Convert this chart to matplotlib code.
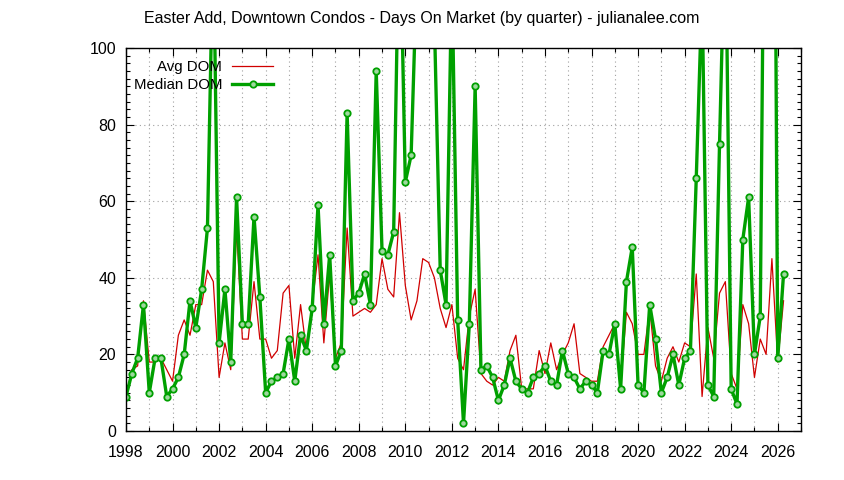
import matplotlib
matplotlib.use("Agg")
import matplotlib.pyplot as plt
from matplotlib.ticker import MultipleLocator
import numpy as np

plt.rcParams['font.family'] = ['Liberation Sans', 'DejaVu Sans']

# quarterly data, first quarter of 1998 .. second quarter of 2026
start_year = 1998
avg_dom = [9, 16, 17, 34,   18, 18, 19, 16,   13, 25, 29, 25,   33, 33, 42, 39,
           14, 23, 16, 53,  24, 24, 39, 24,   24, 19, 21, 36,   38, 19, 33, 21,
           33, 46, 23, 41,  19, 23, 53, 30,   31, 32, 31, 33,   45, 37, 35, 57,
           38, 29, 34, 45,  44, 40, 32, 27,   33, 19, 16, 30,   37, 15, 13, 12,
           14, 13, 21, 25,  11, 11, 11, 21,   15, 23, 16, 20,   23, 28, 15, 14,
           13, 13, 22, 25,  28, 12, 31, 28,   20, 20, 32, 17,   13, 19, 22, 18,
           23, 22, 41, 9,   27, 19, 36, 39,   15, 11, 33, 28,   14, 24, 20, 45,
           18, 34]
median_dom = [9, 15, 19, 33,   10, 19, 19, 9,    11, 14, 20, 34,   27, 37, 53, 130,
              23, 37, 18, 61,  28, 28, 56, 35,   10, 13, 14, 15,   24, 13, 25, 21,
              32, 59, 28, 46,  17, 21, 83, 34,   36, 41, 33, 94,   47, 46, 52, 140,
              65, 72, 121, 180, 150, 107, 42, 33, 120, 29, 2, 28,  90, 16, 17, 14,
              8, 12, 19, 13,   11, 10, 14, 15,   17, 13, 12, 21,   15, 14, 11, 13,
              12, 10, 21, 20,  28, 11, 39, 48,   12, 10, 33, 24,   10, 14, 20, 12,
              19, 21, 66, 115, 12, 9, 75, 136,   11, 7, 50, 61,    20, 30, 205, 280,
              19, 41]

t = start_year + np.arange(len(median_dom)) * 0.25

fig = plt.figure(figsize=(8.44, 4.8), dpi=100)
ax = fig.add_axes([126/844, 1-431/480, (801-126)/844, (431-48)/480])

ax.plot(t, avg_dom, color='#d00000', lw=0.9, label='Avg DOM')
ax.plot(t, median_dom, color='#00a000', lw=2.4, marker='o', ms=4.6,
        mec='#00a000', mew=1.3, mfc='#9ed89e', label='Median DOM')

ax.set_xlim(1998, 2027)
ax.set_ylim(0, 100)
ax.xaxis.set_major_locator(MultipleLocator(2))
ax.xaxis.set_minor_locator(MultipleLocator(1))
ax.yaxis.set_major_locator(MultipleLocator(20))
ax.yaxis.set_minor_locator(MultipleLocator(2))

ax.tick_params(which='both', direction='in', top=True, right=True, labelsize=11.5)
ax.tick_params(which='major', length=6, width=0.8)
ax.tick_params(which='minor', length=3, width=0.8)
ax.tick_params(axis='x', which='major', pad=10)
ax.tick_params(axis='y', which='major', pad=7)

ax.grid(which='both', axis='x', color='#a0a0a0', lw=0.8, ls=(0, (1, 3)))
ax.grid(which='major', axis='y', color='#a0a0a0', lw=0.8, ls=(0, (1, 3)))
ax.set_axisbelow(True)
for s in ax.spines.values():
    s.set_linewidth(1.0)

leg = ax.legend(loc='upper right', bbox_to_anchor=(0.218, 0.968), frameon=False,
                markerfirst=False, fontsize=10.8, handlelength=2.75,
                handletextpad=0.65, labelspacing=0.25, borderpad=0, borderaxespad=0)
# right align the legend entries like gnuplot does
leg._legend_handle_box.get_children()[0].align = "right"

fig.text(0.5, 1-19/480, "Easter Add, Downtown Condos - Days On Market (by quarter) - julianalee.com",
         ha='center', va='center', fontsize=11.5)

fig.savefig("out.png", dpi=100)
